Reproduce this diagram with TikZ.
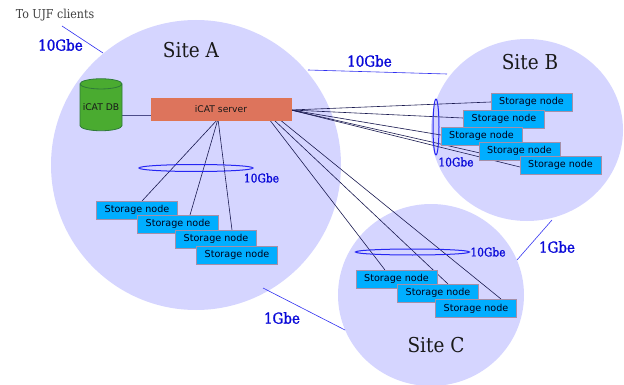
\documentclass[tikz,border=0pt]{standalone}
\usepackage{fontspec}
\setmainfont{DejaVu Sans}
\newfontfamily\serifcond[FakeStretch=0.9]{DejaVu Serif}
\newfontfamily\serifbold[FakeStretch=0.9,FakeBold=1.6]{DejaVu Serif}
\usetikzlibrary{shapes.geometric}
\definecolor{sitefill}{HTML}{D5D5FF}
\definecolor{nodefill}{HTML}{00AEFF}
\definecolor{nodeedge}{HTML}{A58FA8}
\definecolor{serverfill}{HTML}{DD745C}
\definecolor{dbfill}{HTML}{4AAB30}
\definecolor{dbedge}{HTML}{2F7A3A}
\definecolor{linkblue}{HTML}{3030F0}
\definecolor{labelblue}{HTML}{0A0AD8}
\definecolor{lanline}{HTML}{1A1A50}
\tikzset{
  site/.style={ellipse,fill=sitefill,inner sep=0pt},
  storagenode/.style={rectangle,draw=nodeedge,line width=0.8pt,fill=nodefill,minimum width=81pt,minimum height=18pt,inner sep=0pt,font=\fontsize{9.6}{11}\selectfont,text=black!90!blue},
  sitetitle/.style={font=\serifcond\fontsize{20.5}{24}\selectfont,text=black!90,inner sep=0pt},
  biglabel/.style={font=\serifbold\fontsize{15}{18}\selectfont,text=labelblue,inner sep=0pt},
  smalllabel/.style={font=\serifbold\fontsize{11.8}{14}\selectfont,text=labelblue,inner sep=0pt},
  wan/.style={draw=linkblue,line width=0.6pt},
  lan/.style={draw=lanline,line width=0.6pt},
  ring/.style={ellipse,draw=linkblue!80!blue,line width=1pt,inner sep=0pt}
}
\begin{document}
\begin{tikzpicture}[x=1pt,y=-1pt]
\useasboundingbox (0,0) rectangle (624,385);
% sites
\node[site,minimum width=290pt,minimum height=290pt] (sitea) at (196,165) {};
\node[site,minimum width=192pt,minimum height=182pt] (siteb) at (527,130) {};
\node[site,minimum width=186pt,minimum height=182pt] (sitec) at (431,295) {};
\node[sitetitle] (ta) at (191,50) {Site A};
\node[sitetitle] (tb) at (530,62) {Site B};
\node[sitetitle] (tc) at (436,345) {Site C};
% anchors for the connectors
\coordinate (ujf) at (62,26);
\coordinate (ujfa) at (103,53);
\coordinate (abA) at (308,70);
\coordinate (abB) at (447,74);
\coordinate (bcB) at (552,220);
\coordinate (bcC) at (517,260);
\coordinate (acA) at (263,288);
\coordinate (acC) at (345,330);
\coordinate (srvE) at (291,110);
\coordinate (srvS) at (218,119);
\coordinate (srvC1) at (269,119);
\coordinate (srvC2) at (273,119);
\coordinate (srvC3) at (279,119);
\coordinate (dbE) at (122,115);
\coordinate (srvW) at (151,115);
\coordinate (a1t) at (142,201);
\coordinate (a2t) at (190,215);
\coordinate (a3t) at (232,230);
\coordinate (c1t) at (385,270);
\coordinate (c2t) at (448,284);
\coordinate (c3t) at (501,299);
\coordinate (b1w) at (491,102);
\coordinate (b2w) at (463,118);
\coordinate (b3w) at (441,135);
\coordinate (b4w) at (480,153);
\coordinate (b5w) at (520,167);
% wide-area links
\draw[wan] (ujf) -- (ujfa);
\draw[wan] (abA) -- (abB);
\draw[wan] (bcB) -- (bcC);
\draw[wan] (acA) -- (acC);
% local links
\draw[draw=black!40!blue!40!gray,line width=0.8pt] (dbE) -- (srvW);
\foreach \t in {a1t,a2t,a3t} \draw[lan] (srvS) -- (\t);
\draw[lan] (srvC1) -- (c1t);
\draw[lan] (srvC2) -- (c2t);
\draw[lan] (srvC3) -- (c3t);
\foreach \t in {b1w,b2w,b3w,b4w,b5w} \draw[lan] (srvE) -- (\t);
% rings
\node[ring,minimum width=114pt,minimum height=7pt] (ra) at (196,168) {};
\node[ring,minimum width=6pt,minimum height=56pt] (rb) at (436,127) {};
\node[ring,minimum width=114pt,minimum height=6pt] (rc) at (412.5,252) {};
% server and db
\node[rectangle,fill=serverfill,draw=serverfill!90!orange,line width=0.5pt,minimum width=140pt,minimum height=22pt,inner sep=0pt,font=\fontsize{9.2}{11}\selectfont,text=black!90] (srv) at (221,109) {iCAT server};
\node[cylinder,shape border rotate=90,aspect=0.28,draw=dbedge,fill=dbfill,line width=0.8pt,minimum width=42pt,minimum height=52pt,inner sep=0pt,font=\fontsize{9.2}{11}\selectfont,text=black!90] (db) at (101,107.5) {iCAT DB};
% storage nodes
\node[storagenode] (a1) at (137,210) {Storage node};
\node[storagenode] (a2) at (178,224) {Storage node};
\node[storagenode] (a3) at (216,239) {Storage node};
\node[storagenode] (a4) at (237,255) {Storage node};
\node[storagenode] (b1) at (531.5,102) {Storage node};
\node[storagenode] (b2) at (504,119) {Storage node};
\node[storagenode] (b3) at (481.5,136) {Storage node};
\node[storagenode] (b4) at (519.5,151) {Storage node};
\node[storagenode] (b5) at (560.5,165) {Storage node};
\node[storagenode] (c1) at (396.5,279) {Storage node};
\node[storagenode] (c2) at (438,293) {Storage node};
\node[storagenode] (c3) at (476,308.5) {Storage node};
% labels
\node[font=\serifcond\fontsize{12.3}{14}\selectfont,text=black!75,inner sep=0pt] (ujflab) at (55,15) {To UJF clients};
\node[biglabel] (l1) at (60.5,45) {10Gbe};
\node[biglabel] (l2) at (369.5,61) {10Gbe};
\node[biglabel] (l3) at (557,247) {1Gbe};
\node[biglabel] (l4) at (282,318) {1Gbe};
\node[smalllabel] (l5) at (261.5,178) {10Gbe};
\node[smalllabel] (l6) at (456,162) {10Gbe};
\node[smalllabel] (l7) at (488,252) {10Gbe};
\end{tikzpicture}
\end{document}
